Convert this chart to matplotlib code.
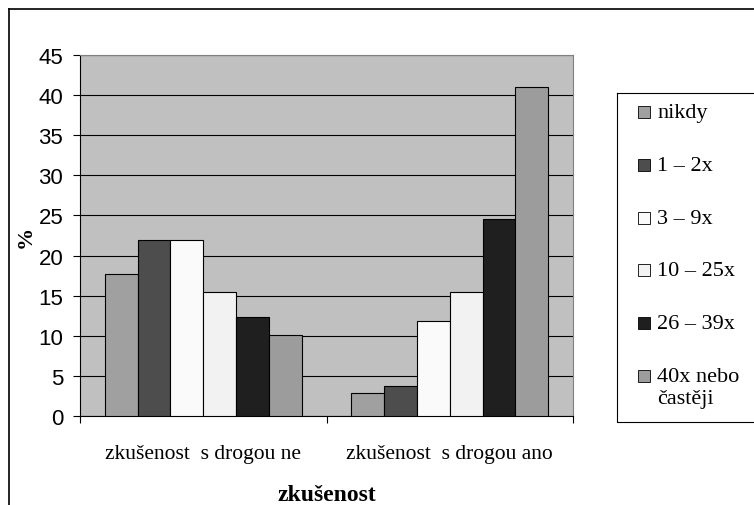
import matplotlib.pyplot as plt
import numpy as np
from matplotlib.patches import Rectangle
from matplotlib.lines import Line2D

# Kategorie a hodnoty (%)
skupiny = ['zkušenost  s drogou ne', 'zkušenost  s drogou ano']
frekvence = ['nikdy', '1 – 2x', '3 – 9x', '10 – 25x', '26 – 39x', '40x nebo\nčastěji']
hodnoty_ne = [17.7, 22.0, 22.0, 15.4, 12.4, 10.1]
hodnoty_ano = [2.9, 3.8, 11.8, 15.4, 24.5, 41.0]
barvy = ['#a0a0a0', '#4d4d4d', '#fafafa', '#f2f2f2', '#1f1f1f', '#9c9c9c']

W, H = 754, 506
fig = plt.figure(figsize=(W / 100, H / 100), dpi=100)
ax = fig.add_axes([80 / W, 1 - 417 / H, (573 - 80) / W, (417 - 56) / H])
ax.set_facecolor('#c0c0c0')

x = np.arange(len(skupiny))
sirka = 0.8 / len(frekvence)
data = np.array([hodnoty_ne, hodnoty_ano])
for i, barva in enumerate(barvy):
    pos = x - 0.4 + sirka * (i + 0.5)
    ax.bar(pos, data[:, i], width=sirka, color=barva, edgecolor='black',
           linewidth=0.8, zorder=3)

ax.set_xlim(-0.5, 1.5)
ax.set_ylim(0, 45)
ax.set_yticks(np.arange(0, 46, 5))
ax.yaxis.grid(True, color='black', linewidth=0.8, zorder=1)
ax.tick_params(axis='y', direction='out', length=5, width=0.8, pad=7, labelsize=16)
for lab in ax.get_yticklabels():
    lab.set_fontfamily('Liberation Sans')

# hranice kategorii jako hlavni znacky, popisky jako vedlejsi
ax.set_xticks([-0.5, 0.5, 1.5])
ax.set_xticklabels(['', '', ''])
ax.tick_params(axis='x', which='major', direction='out', length=5, width=0.8)
ax.set_xticks(x, minor=True)
ax.set_xticklabels(skupiny, minor=True, fontfamily='Liberation Serif', fontsize=15.5)
ax.tick_params(axis='x', which='minor', length=0, pad=20)

ax.set_xlabel('zkušenost', fontfamily='Liberation Serif',
              fontsize=17, fontweight='bold', labelpad=15)
ax.set_ylabel('%', fontfamily='Liberation Serif', fontsize=16, fontweight='bold',
              labelpad=2)

for s in ['top', 'right']:
    ax.spines[s].set_color('#808080')
ax.spines['left'].set_color('black')
ax.spines['bottom'].set_color('black')

# vnejsi ramecek grafu
fig.add_artist(Line2D([9 / W, 9 / W], [0, 1 - 10 / H], color='black', lw=1.2))
fig.add_artist(Line2D([9 / W, 1], [1 - 10 / H, 1 - 10 / H], color='black', lw=1.2))

# legenda
fig.add_artist(Line2D([617 / W, 617 / W, 1], [1 - 94 / H, 1 - 423 / H, 1 - 423 / H],
                      color='black', lw=0.8))
fig.add_artist(Line2D([617 / W, 1], [1 - 94 / H, 1 - 94 / H], color='black', lw=0.8))
for i, (nazev, barva) in enumerate(zip(frekvence, barvy)):
    yc = 113 + 52.8 * i
    fig.add_artist(Rectangle((638 / W, 1 - (yc + 6) / H), 12 / W, 12 / H,
                             facecolor=barva, edgecolor='black', lw=0.6,
                             transform=fig.transFigure))
    fig.text(657 / W, 1 - (yc - 9) / H, nazev, fontfamily='Liberation Serif',
             fontsize=16, va='top', ha='left', linespacing=1.2)

fig.savefig('out.png', dpi=100)
